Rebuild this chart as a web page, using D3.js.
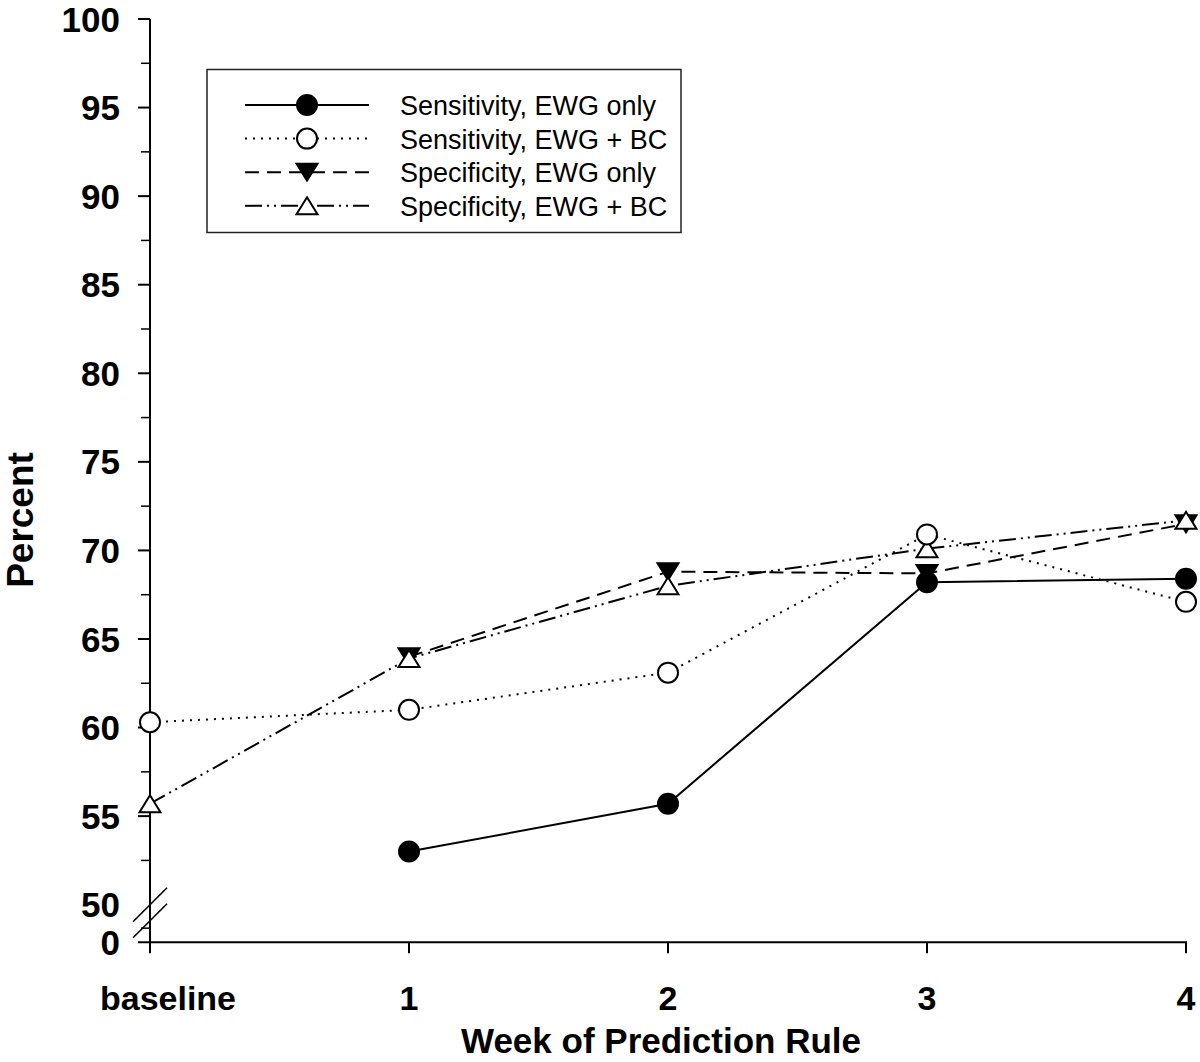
<!DOCTYPE html>
<html><head><meta charset="utf-8">
<script src="https://cdn.jsdelivr.net/npm/d3@7"></script>
<style>body{margin:0;background:#fff}svg{display:block}text{font-family:"Liberation Sans",Arial,sans-serif}</style>
</head><body>
<svg id="c" width="1200" height="1062"></svg>
<script>
const weeks = ["baseline", "1", "2", "3", "4"];
const sensEWG = [null, 53.0, 55.7, 68.2, 68.4];
const sensBC = [60.3, 61.0, 63.1, 70.9, 67.1];
const specEWG = [null, 64.0, 68.8, 68.7, 71.5];
const specBC = [55.7, 63.9, 68.0, 70.1, 71.7];
const seriesNames = ["Sensitivity, EWG only", "Sensitivity, EWG + BC", "Specificity, EWG only", "Specificity, EWG + BC"];
const yTicksMain = [50, 55, 60, 65, 70, 75, 80, 85, 90, 95, 100];
const yTicksLow = [0];

const svg = d3.select("#c");
const x = d3.scalePoint().domain(weeks).range([150, 1186]);
const y = d3.scaleLinear().domain([50, 100]).range([904.7, 19]);
const yLow = d3.scaleLinear().domain([0, 5]).range([942.3, 914]);

const black = "#000";
const g = svg.append("g");
g.append("line").attr("x1", 150).attr("x2", 150).attr("y1", y(100)).attr("y2", yLow(0)).attr("stroke", black).attr("stroke-width", 2);
g.append("line").attr("x1", 138).attr("x2", x("4")+1).attr("y1", yLow(0)).attr("y2", yLow(0)).attr("stroke", black).attr("stroke-width", 2);
yTicksMain.forEach(v => {
  if (v !== 50) g.append("line").attr("x1", 138).attr("x2", 150).attr("y1", y(v)).attr("y2", y(v)).attr("stroke", black).attr("stroke-width", 2);
  g.append("text").attr("x", 120).attr("y", y(v)).attr("dy", "0.36em").attr("text-anchor", "end")
    .attr("font-size", 35).attr("font-weight", "bold").text(v);
  if (v < 100) g.append("line").attr("x1", 141).attr("x2", 150).attr("y1", y(v + 2.5)).attr("y2", y(v + 2.5)).attr("stroke", black).attr("stroke-width", 1.5);
});
yTicksLow.forEach(v => {
  g.append("text").attr("x", 120).attr("y", yLow(v)).attr("dy", "0.36em").attr("text-anchor", "end")
    .attr("font-size", 35).attr("font-weight", "bold").text(v);
});
g.append("line").attr("x1", 141).attr("x2", 150).attr("y1", yLow(2.5)).attr("y2", yLow(2.5)).attr("stroke", black).attr("stroke-width", 1.5);
[y(50) + 17, y(50) + 33].forEach(cy => {
  g.append("line").attr("x1", 133).attr("y1", cy).attr("x2", 167).attr("y2", cy - 34).attr("stroke", black).attr("stroke-width", 1.6);
});
weeks.forEach(w => {
  g.append("line").attr("x1", x(w)).attr("x2", x(w)).attr("y1", yLow(0)).attr("y2", yLow(0) + 11).attr("stroke", black).attr("stroke-width", 2);
  g.append("text").attr("x", x(w) + (w === "baseline" ? 18 : 0)).attr("y", 1010).attr("text-anchor", "middle")
    .attr("font-size", 34).attr("font-weight", "bold").text(w);
});
g.append("text").attr("x", 661).attr("y", 1053).attr("text-anchor", "middle").attr("font-size", 35).attr("font-weight", "bold").text("Week of Prediction Rule");
g.append("text").attr("transform", "translate(33,520) rotate(-90)").attr("text-anchor", "middle").attr("font-size", 37).attr("font-weight", "bold").text("Percent");

const series = [
  {vals: specEWG, dash: "14,8", marker: "tdown", fill: black},
  {vals: specBC, dash: "17,5,2,5,2,5", marker: "tup", fill: "#fff"},
  {vals: sensBC, dash: "2,6", marker: "circle", fill: "#fff"},
  {vals: sensEWG, dash: null, marker: "circle", fill: black}
];
const legendOrder = [3, 2, 0, 1];
const line = d3.line().defined(d => d.v !== null).x(d => x(d.w)).y(d => y(d.v));
function drawMarker(sel, type, fill, cx, cy) {
  if (type === "circle") {
    sel.append("circle").attr("cx", cx).attr("cy", cy).attr("r", 10).attr("fill", fill).attr("stroke", black).attr("stroke-width", 2);
  } else {
    const hw = 10.5, hh = 8.5;
    const pts = type === "tup" ? [[cx, cy - hh], [cx + hw, cy + hh], [cx - hw, cy + hh]] : [[cx - hw, cy - hh], [cx + hw, cy - hh], [cx, cy + hh]];
    sel.append("polygon").attr("points", pts.map(p => p.join(",")).join(" ")).attr("fill", fill).attr("stroke", black).attr("stroke-width", 2).attr("stroke-linejoin", "miter");
  }
}
const lines = svg.append("g"), marks = svg.append("g");
series.forEach(s => {
  const data = weeks.map((w, i) => ({w, v: s.vals[i]}));
  lines.append("path").datum(data).attr("d", line).attr("fill", "none").attr("stroke", black).attr("stroke-width", 2)
    .attr("stroke-dasharray", s.dash);
});
series.forEach(s => {
  weeks.forEach((w, i) => { if (s.vals[i] !== null) drawMarker(marks, s.marker, s.fill, x(w), y(s.vals[i])); });
});

const lg = svg.append("g");
lg.append("rect").attr("x", 207).attr("y", 69.5).attr("width", 474).attr("height", 163).attr("fill", "#fff").attr("stroke", "#222").attr("stroke-width", 1.5);
legendOrder.forEach((si, k) => {
  const s = series[si];
  const cy = 105 + k * 33.6;
  lg.append("line").attr("x1", 245).attr("x2", 369).attr("y1", cy).attr("y2", cy).attr("stroke", black).attr("stroke-width", 2).attr("stroke-dasharray", s.dash);
  drawMarker(lg, s.marker, s.fill, 307, cy);
  lg.append("text").attr("x", 400).attr("y", cy + 10).attr("font-size", 27).text(seriesNames[k]);
});
</script>
</body></html>
